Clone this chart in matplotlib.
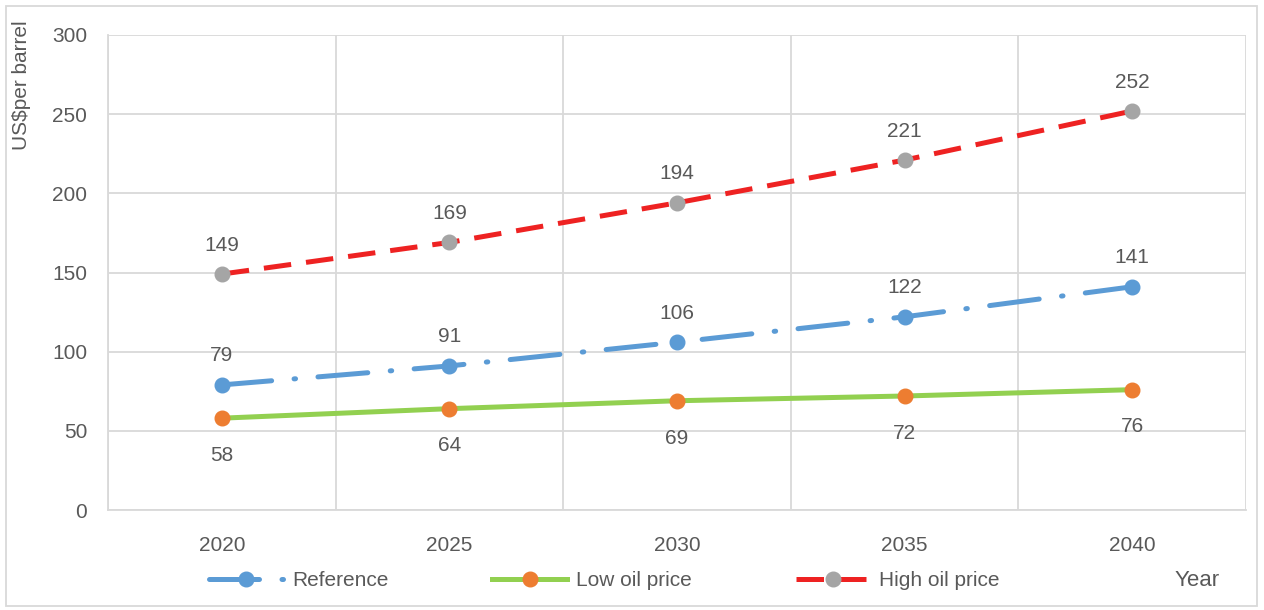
import matplotlib
matplotlib.use("Agg")
import matplotlib.pyplot as plt
from matplotlib.patches import Rectangle

plt.rcParams['font.family'] = ['Liberation Sans Narrow', 'Liberation Sans', 'DejaVu Sans']

years = ["2020", "2025", "2030", "2035", "2040"]
reference = [79, 91, 106, 122, 141]
low_price = [58, 64, 69, 72, 76]
high_price = [149, 169, 194, 221, 252]

TXT = "#595959"
GRID = "#D9D9D9"
FS = 15

fig = plt.figure(figsize=(12.64, 6.10), dpi=100)
ax = fig.add_axes([108/1264, 100/610, 1138/1264, 475/610])
x = list(range(len(years)))

l_ref, = ax.plot(x, reference, color="#5B9BD5", lw=3.6, marker="o", ms=10.5,
                 dashes=(10, 4.5, 0.3, 4.5), dash_capstyle="round", solid_capstyle="round",
                 label="Reference", zorder=3)
l_low, = ax.plot(x, low_price, color="#92D050", lw=3.6, marker="o", ms=10.5,
                 mfc="#ED7D31", mec="#ED7D31", label="Low oil price", zorder=3)
l_high, = ax.plot(x, high_price, color="#EE2222", lw=3.6, marker="o", ms=10.5,
                  mfc="#A5A5A5", mec="#A5A5A5", dashes=(5.5, 3), dash_capstyle="butt",
                  label="High oil price", zorder=3)

for xi, v in zip(x, reference):
    ax.annotate(str(v), (xi, v), xytext=(0, 14), textcoords="offset points",
                ha="center", va="bottom", fontsize=FS, color=TXT)
for xi, v in zip(x, high_price):
    ax.annotate(str(v), (xi, v), xytext=(0, 14), textcoords="offset points",
                ha="center", va="bottom", fontsize=FS, color=TXT)
for xi, v in zip(x, low_price):
    ax.annotate(str(v), (xi, v), xytext=(0, -20), textcoords="offset points",
                ha="center", va="top", fontsize=FS, color=TXT)

ax.set_xlim(-0.5, len(years) - 0.5)
ax.set_ylim(0, 300)
ax.set_yticks(range(0, 301, 50))
ax.set_xticks(x)
ax.set_xticklabels(years)
ax.set_xticks([i - 0.5 for i in range(len(years) + 1)], minor=True)
ax.grid(False)
ax.grid(True, which="minor", axis="x", color=GRID, lw=1.3)
ax.grid(True, which="major", axis="y", color=GRID, lw=1.3)
ax.set_axisbelow(True)
ax.tick_params(axis="both", which="both", length=0, labelsize=FS, labelcolor=TXT)
ax.tick_params(axis="y", pad=15)
ax.tick_params(axis="x", pad=19)
for s in ["top", "right"]:
    ax.spines[s].set_visible(False)
ax.spines["left"].set_color(GRID)
ax.spines["left"].set_linewidth(1.3)
ax.spines["bottom"].set_color(GRID)
ax.spines["bottom"].set_linewidth(1.3)

fig.text(22/1264, 1 - 20/610, "US$per barrel", rotation=90, ha="center", va="top",
         fontsize=FS, color=TXT)
fig.text(1197/1264, 1 - 581/610, "Year", ha="center", va="center", fontsize=16, color=TXT)

leg = fig.legend(handles=[l_ref, l_low, l_high], loc="center",
                 bbox_to_anchor=(604/1264, 1 - 581/610), ncol=3, frameon=False,
                 fontsize=FS, handlelength=3.6, handletextpad=0.4, columnspacing=5.0,
                 labelcolor=TXT)

fig.patches.append(Rectangle((6/1264, 4/610), 1251/1264, 600/610, transform=fig.transFigure,
                             fill=False, edgecolor=GRID, lw=1.3))

fig.savefig("out.png", dpi=100)
